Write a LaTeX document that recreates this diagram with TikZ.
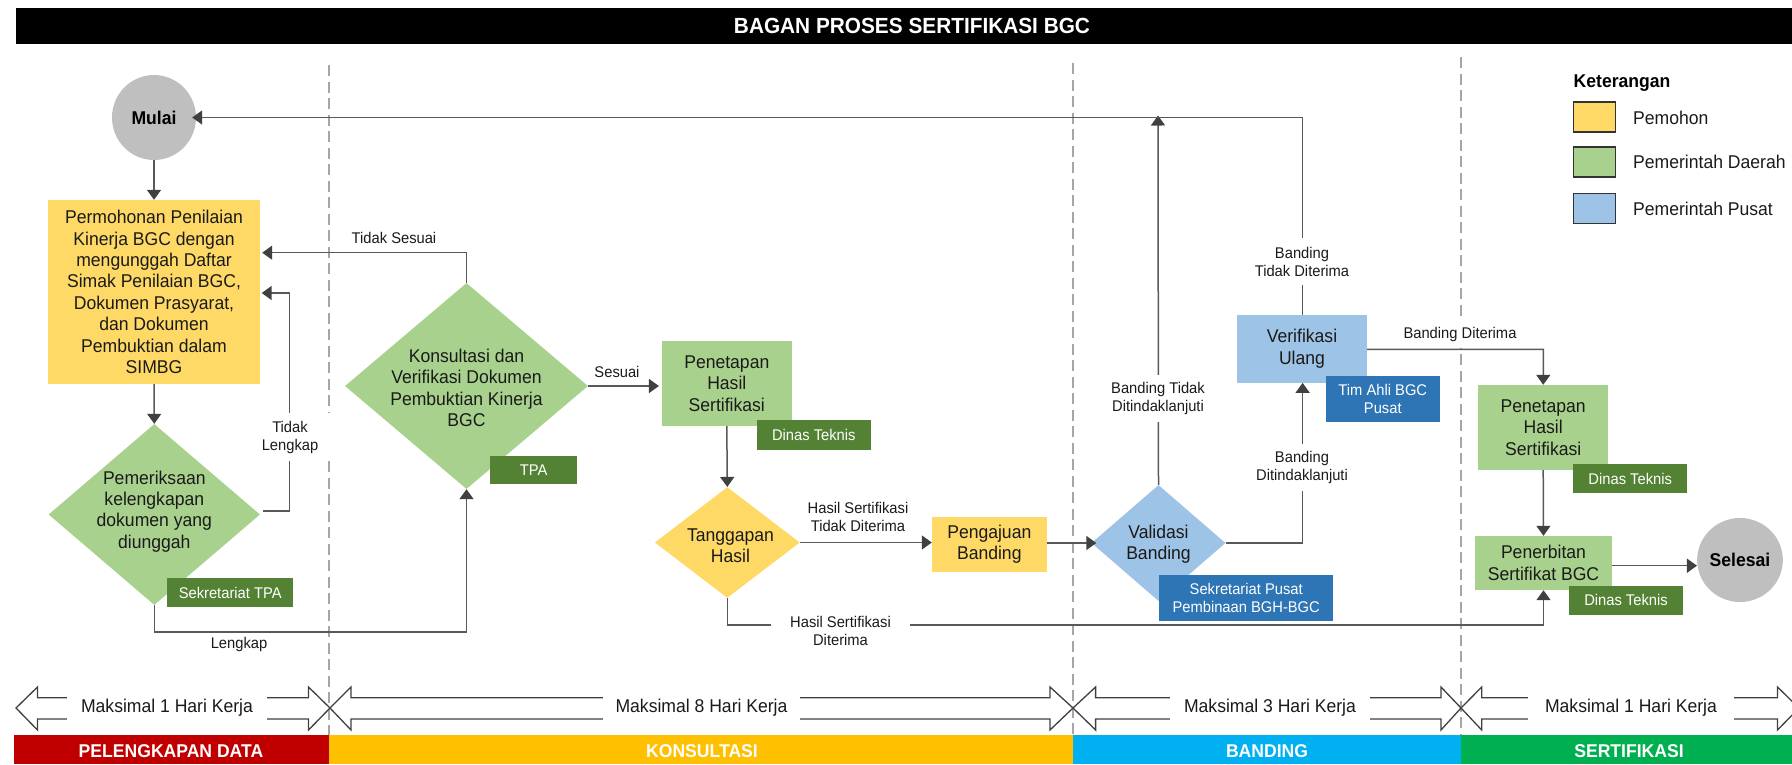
\documentclass[tikz,border=0pt]{standalone}
\usepackage{fontspec}
\setmainfont[FakeStretch=0.95]{Liberation Sans}
\usetikzlibrary{arrows.meta,shapes.geometric}
\definecolor{cyellow}{HTML}{FFD966}
\definecolor{cgreen}{HTML}{A9D18E}
\definecolor{cblue}{HTML}{9DC3E6}
\definecolor{ctag}{HTML}{548235}
\definecolor{cdblue}{HTML}{2E75B6}
\definecolor{cgray}{HTML}{BFBFBF}
\definecolor{cline}{HTML}{595959}
\definecolor{chead}{HTML}{404040}
\definecolor{ctext}{HTML}{1A1A1A}
\definecolor{cdiv}{HTML}{A6A6A6}
\definecolor{bred}{HTML}{C00000}
\definecolor{bgold}{HTML}{FFC000}
\definecolor{bblue}{HTML}{00B0F0}
\definecolor{bgreen}{HTML}{00B050}
\newcommand{\fbig}{\fontsize{18.5}{21.4}\selectfont}
\newcommand{\fsmall}{\fontsize{15.5}{18}\selectfont}
\tikzset{
  x=1pt,y=-1pt,
  sz/.style 2 args={minimum width=#1pt,minimum height=#2pt},
  boxn/.style={inner sep=0pt,align=center,font=\fbig,text=ctext},
  dmd/.style={diamond,inner sep=0pt},
  txt/.style={inner sep=0pt,align=center,font=\fbig,text=ctext},
  lbl/.style={inner sep=0pt,align=center,font=\fsmall,text=ctext,fill=white},
  tagn/.style={inner sep=0pt,align=center,font=\fsmall,text=white},
  flow/.style={draw=cline,line width=1.5pt,-{Triangle[length=10pt,width=14pt,color=chead]}},
  divider/.style={draw=cdiv,line width=1.4pt,dash pattern=on 11pt off 5.5pt},
  bigarrow/.style={draw=chead,line width=1.3pt,fill=white,line join=miter},
  band/.style={inner sep=0pt,font=\fontsize{18.5}{20}\selectfont\bfseries,text=white},
  swatch/.style={draw=black!80,line width=1.4pt,minimum width=42pt,minimum height=30pt,inner sep=0pt},
  legtxt/.style={inner sep=0pt,anchor=west,font=\fbig,text=ctext}
}
\newcommand{\harrow}[4]{\draw[bigarrow] (#1,708)--(#2,687)--(#2,697.7)--(#3,697.7)--(#3,687)--(#4,708)--(#3,730)--(#3,719)--(#2,719)--(#2,730)--cycle;}
\begin{document}
\begin{tikzpicture}
\useasboundingbox (0,0) rectangle (1792,764);
% title
\node[fill=black,inner sep=0pt,sz={1776}{36}] (title) at (904,25.5) {};
\node[inner sep=0pt,text=white,font=\fontsize{21.9}{24}\selectfont\bfseries] (titlet) at (912,26) {BAGAN PROSES SERTIFIKASI BGC};
% dividers
\coordinate (dv1a) at (329,65); \coordinate (dv1b) at (329,735);
\coordinate (dv2a) at (1073,63); \coordinate (dv2b) at (1073,735);
\coordinate (dv3a) at (1461,57); \coordinate (dv3b) at (1461,735);
\draw[divider] (dv1a)--(dv1b);
\draw[divider] (dv2a)--(dv2b);
\draw[divider] (dv3a)--(dv3b);
% start / end
\node[ellipse,fill=cgray,inner sep=0pt,sz={84}{85},font=\fbig\bfseries,text=black] (mulai) at (154,117.5) {Mulai};
\node[ellipse,fill=cgray,inner sep=0pt,sz={84}{84},font=\fbig\bfseries,text=black] (selesai) at (1740,560) {Selesai};
% boxes
\node[boxn,fill=cyellow,sz={212}{184}] (b1) at (154,292) {Permohonan Penilaian\\Kinerja BGC dengan\\mengunggah Daftar\\Simak Penilaian BGC,\\Dokumen Prasyarat,\\dan Dokumen\\Pembuktian dalam\\SIMBG};
\node[boxn,fill=cgreen,sz={130.4}{85}] (pen1) at (726.8,383.5) {Penetapan\\Hasil\\Sertifikasi};
\node[boxn,fill=cyellow,sz={114.6}{54.7}] (aju) at (989.3,544.3) {Pengajuan\\Banding};
\node[boxn,fill=cblue,sz={130}{67.7}] (ver) at (1302,348.8) {Verifikasi\\Ulang};
\node[boxn,fill=cgreen,sz={130.4}{85}] (pen2) at (1543.2,427.5) {Penetapan\\Hasil\\Sertifikasi};
\node[boxn,fill=cgreen,sz={137}{54}] (terbit) at (1543.5,563) {Penerbitan\\Sertifikat BGC};
% diamonds
\node[dmd,fill=cgreen,sz={211.4}{181}] (d1) at (154.3,514.5) {};
\node[txt] (d1t) at (154.3,511.5) {Pemeriksaan\\kelengkapan\\dokumen yang\\diunggah};
\node[dmd,fill=cgreen,sz={243}{206}] (d2) at (466.5,386) {};
\node[txt] (d2t) at (466.5,388) {Konsultasi dan\\Verifikasi Dokumen\\Pembuktian Kinerja\\BGC};
\node[dmd,fill=cyellow,sz={145}{110.7}] (d3) at (727.3,542.5) {};
\node[txt] (d3t) at (730.5,545.5) {Tanggapan\\Hasil};
\node[dmd,fill=cblue,sz={134}{116}] (d4) at (1158.5,543) {};
\node[txt] (d4t) at (1158.5,544) {Validasi\\Banding};
% bends
\coordinate (mid) at (1158,115.5);
\coordinate (c1) at (289.3,293);
\coordinate (c3) at (154.3,632);
\coordinate (c4) at (466.5,632);
\coordinate (c5) at (727.3,625);
\coordinate (c6) at (1543.5,625);
\coordinate (c8) at (1302.6,543);
\coordinate (c9) at (1302.6,117.5);
\coordinate (c10) at (1543.4,349.3);
% connectors
\draw[flow] (mulai.south) -- (b1.north);
\draw[flow] (b1.south) -- (d1.north);
\draw[flow] ([shift={(3pt,3.5pt)}]d1.east) -| (c1) -- ([shift={(1.5pt,-1pt)}]b1.east);
\draw[flow] (d2.north) |- ([shift={(2pt,39.3pt)}]b1.east);
\draw[flow] (d1.south) -- (c3) -- (c4) -- (d2.south);
\draw[flow] (d2.east) -- ([xshift=-2.5pt]d2.east -| pen1.west);
\draw[flow] (pen1.south) -- (d3.north);
\draw[flow] (d3.east) -- (d3.east -| aju.west);
\draw[flow] (aju.east |- d4.west) -- ([xshift=5pt]d4.west);
\draw[flow] (d3.south) -- (c5) -- (c6) -- (terbit.south);
\draw[flow] (d4.north) -- (mid);
\draw[flow] (d4.east) -- (c8) -- (ver.south -| c8);
\draw[flow] (ver.north -| c9) -- (c9) -- ([xshift=-4pt]mulai.east);
\draw[flow] (ver.east |- c10) -- (c10) -- (pen2.north);
\draw[flow] (pen2.south) -- (terbit.north);
\draw[flow] ([yshift=-2.7pt]terbit.east) -- ([yshift=-2.7pt]terbit.east -| selesai.west);
% connector labels
\node[lbl,sz={80}{48}] (l1) at (290,437) {Tidak\\Lengkap};
\node[lbl] (l2) at (394,238) {Tidak Sesuai};
\node[lbl] (l3) at (239,644) {Lengkap};
\node[lbl,fill=none] (l4) at (617,372) {Sesuai};
\node[lbl] (l5) at (858,516.7) {Hasil Sertifikasi\\Tidak Diterima};
\node[lbl,sz={139}{42}] (l6) at (840.5,630.7) {Hasil Sertifikasi\\Diterima};
\node[lbl,sz={120}{47}] (l7) at (1158,398.5) {Banding Tidak\\Ditindaklanjuti};
\node[lbl,sz={120}{47}] (l8) at (1302,467.5) {Banding\\Ditindaklanjuti};
\node[lbl,sz={120}{47}] (l9) at (1302,261.5) {Banding\\Tidak Diterima};
\node[lbl,sz={155}{28}] (l10) at (1460,334) {Banding Diterima};
% role tags
\node[tagn,fill=ctag,sz={126.5}{29}] (t1) at (230.2,592.5) {Sekretariat TPA};
\node[tagn,fill=ctag,sz={87.5}{28}] (t2) at (533.7,470) {TPA};
\node[tagn,fill=ctag,sz={113.6}{29.7}] (t3) at (813.8,434.8) {Dinas Teknis};
\node[tagn,fill=cdblue,sz={173.5}{46.3}] (t4) at (1246.2,597.8) {Sekretariat Pusat\\Pembinaan BGH-BGC};
\node[tagn,fill=cdblue,sz={114.4}{46.6}] (t5) at (1382.8,399) {Tim Ahli BGC\\Pusat};
\node[tagn,fill=ctag,sz={113.5}{28.7}] (t6) at (1630.2,478.6) {Dinas Teknis};
\node[tagn,fill=ctag,sz={114}{28.7}] (t7) at (1626,600.3) {Dinas Teknis};
% duration arrows
\harrow{16}{37.5}{308.5}{330}
\harrow{330}{351}{1050}{1073}
\harrow{1073}{1095.6}{1441}{1461}
\harrow{1461}{1481.7}{1777.5}{1799}
\node[txt,fill=white,sz={200}{30}] (m1) at (167,707.5) {Maksimal 1 Hari Kerja};
\node[txt,fill=white,sz={197}{30}] (m2) at (701.5,707.5) {Maksimal 8 Hari Kerja};
\node[txt,fill=white,sz={200}{30}] (m3) at (1270,708) {Maksimal 3 Hari Kerja};
\node[txt,fill=white,sz={206}{30}] (m4) at (1631,707.5) {Maksimal 1 Hari Kerja};
% phase bands
\fill[bred] (14,735) rectangle (329,764);
\fill[bgold] (329,735) rectangle (1073,764);
\fill[bblue] (1073,735) rectangle (1461,764);
\fill[bgreen] (1461,735) rectangle (1792,764);
\node[band] (p1) at (171,751) {PELENGKAPAN DATA};
\node[band] (p2) at (702,751) {KONSULTASI};
\node[band] (p3) at (1267,751) {BANDING};
\node[band] (p4) at (1629,751) {SERTIFIKASI};
% legend
\node[inner sep=0pt,anchor=west,font=\fbig\bfseries,text=black] (k0) at (1573.5,83) {Keterangan};
\node[swatch,fill=cyellow] (k1) at (1594.3,117) {};
\node[swatch,fill=cgreen] (k2) at (1594.5,162) {};
\node[swatch,fill=cblue] (k3) at (1594.5,208.5) {};
\node[legtxt] (k1t) at (1633,118) {Pemohon};
\node[legtxt] (k2t) at (1633,162) {Pemerintah Daerah};
\node[legtxt] (k3t) at (1633,209) {Pemerintah Pusat};
\end{tikzpicture}
\end{document}
